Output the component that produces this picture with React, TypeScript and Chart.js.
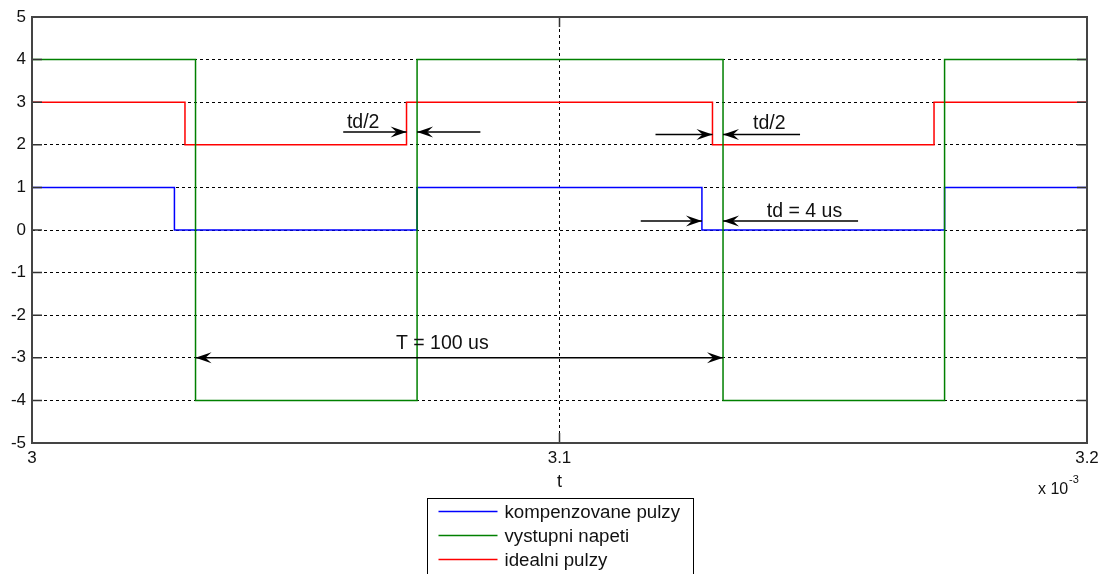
import React, { useEffect, useRef } from 'react';
import { Chart, registerables } from 'chart.js';

Chart.register(...registerables);

// ---- data (time axis in units of 1e-3 s) ----
const seriesLabels = ['kompenzovane pulzy', 'vystupni napeti', 'idealni pulzy'];
const seriesColors = ['#0000ff', '#008000', '#ff0000'];

const tBlue = [3.0, 3.027, 3.073, 3.127, 3.173, 3.2];
const vBlue = [1, 0, 1, 0, 1, 1];
const tGreen = [3.0, 3.031, 3.073, 3.131, 3.173, 3.2];
const vGreen = [4, -4, 4, -4, 4, 4];
const tRed = [3.0, 3.029, 3.071, 3.129, 3.171, 3.2];
const vRed = [3, 2, 3, 2, 3, 3];

const xTicks = [3, 3.1, 3.2];
const xTickLabels = ['3', '3.1', '3.2'];
const yTicks = [-5, -4, -3, -2, -1, 0, 1, 2, 3, 4, 5];
const yTickLabels = ['-5', '-4', '-3', '-2', '-1', '0', '1', '2', '3', '4', '5'];

// annotations (data coordinates)
const annoTexts = ['td/2', 'td/2', 'td = 4 us', 'T = 100 us'];
const annoTextX = [3.0597, 3.1367, 3.1393, 3.069];
const annoTextY = [2.39, 2.36, 0.305, -2.8];

const arrowFrom = [3.059, 3.085, 3.1182, 3.1456, 3.1154, 3.1566, 3.031];
const arrowTo = [3.071, 3.073, 3.129, 3.131, 3.127, 3.131, 3.131];
const arrowY = [2.3, 2.3, 2.24, 2.24, 0.21, 0.21, -3.0];
const arrowBoth = [false, false, false, false, false, false, true];

const FONT = '"Liberation Sans", Arial, sans-serif';

function toPoints(ts: number[], vs: number[]) {
  return ts.map((t, i) => ({ x: t, y: vs[i] }));
}

function drawHead(ctx: CanvasRenderingContext2D, tx: number, ty: number, dir: number) {
  const L = 16, W = 5.5, N = 10;
  ctx.beginPath();
  ctx.moveTo(tx, ty);
  ctx.lineTo(tx - dir * L, ty - W);
  ctx.lineTo(tx - dir * N, ty);
  ctx.lineTo(tx - dir * L, ty + W);
  ctx.closePath();
  ctx.fill();
}

const annotPlugin = {
  id: 'annot',
  afterDatasetsDraw(chart: any) {
    const { ctx, scales } = chart;
    const xs = scales.x, ys = scales.y;
    ctx.save();
    ctx.strokeStyle = '#000';
    ctx.fillStyle = '#000';
    ctx.lineWidth = 1.5;
    for (let i = 0; i < arrowFrom.length; i++) {
      const x0 = xs.getPixelForValue(arrowFrom[i]);
      const x1 = xs.getPixelForValue(arrowTo[i]);
      const yy = ys.getPixelForValue(arrowY[i]);
      ctx.beginPath();
      ctx.moveTo(x0, yy);
      ctx.lineTo(x1, yy);
      ctx.stroke();
      drawHead(ctx, x1, yy, Math.sign(x1 - x0));
      if (arrowBoth[i]) drawHead(ctx, x0, yy, Math.sign(x0 - x1));
    }
    ctx.font = `19.5px ${FONT}`;
    ctx.textAlign = 'left';
    ctx.textBaseline = 'alphabetic';
    ctx.fillStyle = '#111';
    for (let i = 0; i < annoTexts.length; i++) {
      ctx.fillText(annoTexts[i], xs.getPixelForValue(annoTextX[i]), ys.getPixelForValue(annoTextY[i]));
    }
    ctx.restore();
  },
  afterDraw(chart: any) {
    const { ctx, chartArea: ca, scales } = chart;
    const xs = scales.x, ys = scales.y;
    ctx.save();
    // inward tick marks
    ctx.strokeStyle = '#333';
    ctx.lineWidth = 1.5;
    const TL = 10;
    ctx.beginPath();
    yTicks.forEach((v) => {
      const p = ys.getPixelForValue(v);
      ctx.moveTo(ca.left, p); ctx.lineTo(ca.left + TL, p);
      ctx.moveTo(ca.right, p); ctx.lineTo(ca.right - TL, p);
    });
    xTicks.forEach((v) => {
      const p = xs.getPixelForValue(v);
      ctx.moveTo(p, ca.top); ctx.lineTo(p, ca.top + TL);
      ctx.moveTo(p, ca.bottom); ctx.lineTo(p, ca.bottom - TL);
    });
    ctx.stroke();
    // axis box
    ctx.strokeStyle = '#444';
    ctx.lineWidth = 2;
    ctx.strokeRect(ca.left, ca.top, ca.right - ca.left, ca.bottom - ca.top);

    // x label and exponent
    const cx = (ca.left + ca.right) / 2;
    ctx.fillStyle = '#111';
    ctx.font = `18px ${FONT}`;
    ctx.textAlign = 'center';
    ctx.textBaseline = 'alphabetic';
    ctx.fillText('t', cx, ca.bottom + 44);
    ctx.textAlign = 'left';
    ctx.font = `16px ${FONT}`;
    ctx.fillText('x 10', ca.right - 49, ca.bottom + 51);
    ctx.font = `11px ${FONT}`;
    ctx.fillText('-3', ca.right - 18, ca.bottom + 40);

    // legend
    const lw = 266;
    const lx = cx - lw / 2;
    const ly = ca.bottom + 55;
    ctx.fillStyle = '#fff';
    ctx.fillRect(lx, ly, lw, 120);
    ctx.strokeStyle = '#000';
    ctx.lineWidth = 1;
    ctx.strokeRect(Math.round(lx) + 0.5, Math.round(ly) + 0.5, lw, 120);
    ctx.font = `18.7px ${FONT}`;
    ctx.textBaseline = 'middle';
    seriesLabels.forEach((lab, i) => {
      const ry = ly + 13.5 + i * 24;
      ctx.strokeStyle = seriesColors[i];
      ctx.lineWidth = 1.5;
      ctx.beginPath();
      ctx.moveTo(lx + 12, ry);
      ctx.lineTo(lx + 71, ry);
      ctx.stroke();
      ctx.fillStyle = '#111';
      ctx.fillText(lab, lx + 78, ry + 1);
    });
    ctx.restore();
  },
};

export default function App() {
  const ref = useRef<HTMLCanvasElement | null>(null);
  useEffect(() => {
    if (!ref.current) return;
    const gridColor = (ctx: any) => {
      const v = ctx.tick ? ctx.tick.value : null;
      const s = ctx.scale;
      if (v === null || Math.abs(v - s.min) < 1e-9 || Math.abs(v - s.max) < 1e-9) return 'rgba(0,0,0,0)';
      return '#000';
    };
    const chart = new Chart(ref.current, {
      type: 'line',
      data: {
        datasets: [
          { label: seriesLabels[0], data: toPoints(tBlue, vBlue), borderColor: seriesColors[0], borderWidth: 1.5, stepped: 'before', pointRadius: 0, fill: false, order: 1 },
          { label: seriesLabels[1], data: toPoints(tGreen, vGreen), borderColor: seriesColors[1], borderWidth: 1.5, stepped: 'before', pointRadius: 0, fill: false, order: 0 },
          { label: seriesLabels[2], data: toPoints(tRed, vRed), borderColor: seriesColors[2], borderWidth: 1.5, stepped: 'before', pointRadius: 0, fill: false, order: 2 },
        ],
      },
      options: {
        animation: false,
        responsive: false,
        devicePixelRatio: 1,
        layout: { padding: { top: 17, right: 20, left: 0, bottom: 0 } },
        plugins: { legend: { display: false }, tooltip: { enabled: false } },
        scales: {
          x: {
            type: 'linear',
            min: 3,
            max: 3.2,
            afterBuildTicks: (s: any) => { s.ticks = xTicks.map((v) => ({ value: v })); },
            afterFit: (s: any) => { s.height = 131; },
            ticks: {
              autoSkip: false,
              maxRotation: 0,
              padding: 5,
              color: '#111',
              font: { family: FONT, size: 17 },
              callback: (_v: any, i: number) => xTickLabels[i],
            },
            grid: { color: gridColor, lineWidth: 1, drawTicks: false },
            border: { display: false, dash: [3, 3] },
          },
          y: {
            type: 'linear',
            min: -5,
            max: 5,
            afterBuildTicks: (s: any) => { s.ticks = yTicks.map((v) => ({ value: v })); },
            afterFit: (s: any) => { s.width = 32; },
            ticks: {
              autoSkip: false,
              padding: 6,
              color: '#111',
              font: { family: FONT, size: 17 },
              callback: (_v: any, i: number) => yTickLabels[i],
            },
            grid: { color: gridColor, lineWidth: 1, drawTicks: false },
            border: { display: false, dash: [3, 3] },
          },
        },
      },
      plugins: [annotPlugin],
    } as any);
    return () => chart.destroy();
  }, []);
  return (
    <div style={{ position: 'absolute', left: 0, top: 0, width: 1107, height: 574, background: '#fff' }}>
      <canvas ref={ref} width={1107} height={574} />
    </div>
  );
}
